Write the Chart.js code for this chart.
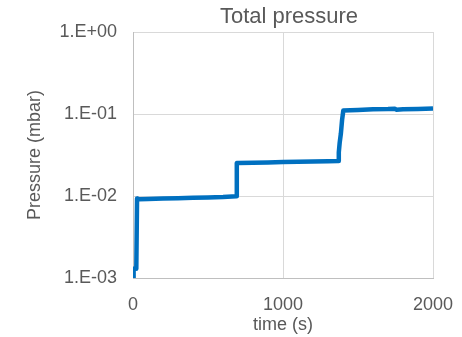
<!DOCTYPE html>
<html>
<head>
<meta charset="utf-8">
<script src="https://cdn.jsdelivr.net/npm/chart.js@4.4.1/dist/chart.umd.min.js"></script>
<style>
  html, body { margin: 0; padding: 0; background: #ffffff; }
  #wrap { width: 462px; height: 337px; }
</style>
</head>
<body>
<div id="wrap"><canvas id="chart" width="462" height="337"></canvas></div>
<script>
// Total pressure over time (mbar vs s)
const chartTitle = 'Total pressure';
const xAxisTitle = 'time (s)';
const yAxisTitle = 'Pressure (mbar)';

const timeS = [0, 4, 22, 27, 30, 40, 100, 200, 300, 400, 500, 600, 690,
  692, 700, 800, 900, 1000, 1100, 1200, 1300, 1367,
  1372, 1378, 1386, 1394, 1402, 1450, 1500, 1600, 1700, 1745, 1755, 1800, 1900, 2000];
const pressureMbar = [0.0010, 0.0013, 0.0013, 0.0093, 0.0092, 0.0091, 0.0092, 0.0093, 0.0094, 0.0095, 0.0096, 0.0097, 0.0099,
  0.0252, 0.0253, 0.0255, 0.0257, 0.0259, 0.0261, 0.0263, 0.0265, 0.0267,
  0.034, 0.045, 0.058, 0.085, 0.110, 0.111, 0.112, 0.114, 0.115, 0.116, 0.113, 0.114, 0.115, 0.117];

const xTicks = [0, 1000, 2000];
const yTicks = [0.001, 0.01, 0.1, 1];

const FONT = '"Liberation Sans", Arial, sans-serif';
const TEXT = '#595959';

function sciLabel(v) {
  const e = Math.round(Math.log10(v));
  const a = Math.abs(e);
  return '1.E' + (e < 0 ? '-' : '+') + (a < 10 ? '0' : '') + a;
}

// Title drawn above the plot area
const titlePlugin = {
  id: 'plotTitle',
  afterDraw(chart) {
    const ctx = chart.ctx;
    ctx.save();
    ctx.font = '22px ' + FONT;
    ctx.fillStyle = TEXT;
    ctx.textAlign = 'center';
    ctx.textBaseline = 'alphabetic';
    ctx.fillText(chartTitle, 289, 23);
    ctx.restore();
  }
};

new Chart(document.getElementById('chart'), {
  type: 'scatter',
  data: {
    datasets: [{
      data: timeS.map((t, i) => ({ x: t, y: pressureMbar[i] })),
      showLine: true,
      borderColor: '#0070C0',
      backgroundColor: '#0070C0',
      borderWidth: 4.5,
      pointRadius: 0,
      tension: 0,
      borderJoinStyle: 'round'
    }]
  },
  options: {
    responsive: false,
    animation: false,
    devicePixelRatio: 1,
    layout: { padding: { left: 0, right: 29, top: 32, bottom: 0 } },
    plugins: {
      legend: { display: false },
      tooltip: { enabled: false },
      title: { display: false }
    },
    scales: {
      x: {
        type: 'linear',
        min: 0,
        max: 2000,
        afterBuildTicks(scale) { scale.ticks = xTicks.map(v => ({ value: v })); },
        afterFit(scale) {
          scale.height = 59;
          scale.paddingLeft = 0;
          scale.paddingRight = 0;
        },
        grid: { color: '#d9d9d9', lineWidth: 1, drawTicks: false },
        border: { color: '#bfbfbf', width: 1 },
        ticks: { font: { family: FONT, size: 18 }, color: TEXT, padding: 16, maxRotation: 0, callback: v => String(v) },
        title: { display: true, text: xAxisTitle, font: { family: FONT, size: 18 }, color: TEXT, padding: { top: 1, bottom: 1 } }
      },
      y: {
        type: 'logarithmic',
        min: 0.001,
        max: 1,
        afterBuildTicks(scale) { scale.ticks = yTicks.map(v => ({ value: v, major: true })); },
        afterFit(scale) {
          scale.width = 133;
          scale.paddingTop = 0;
          scale.paddingBottom = 0;
        },
        grid: { color: '#d9d9d9', lineWidth: 1, drawTicks: false },
        border: { color: '#bfbfbf', width: 1 },
        ticks: { font: { family: FONT, size: 18 }, color: TEXT, padding: 16, callback: v => sciLabel(v) },
        title: { display: true, text: yAxisTitle, font: { family: FONT, size: 18 }, color: TEXT, padding: { top: 24, bottom: 0 } }
      }
    }
  },
  plugins: [titlePlugin]
});
</script>
</body>
</html>
